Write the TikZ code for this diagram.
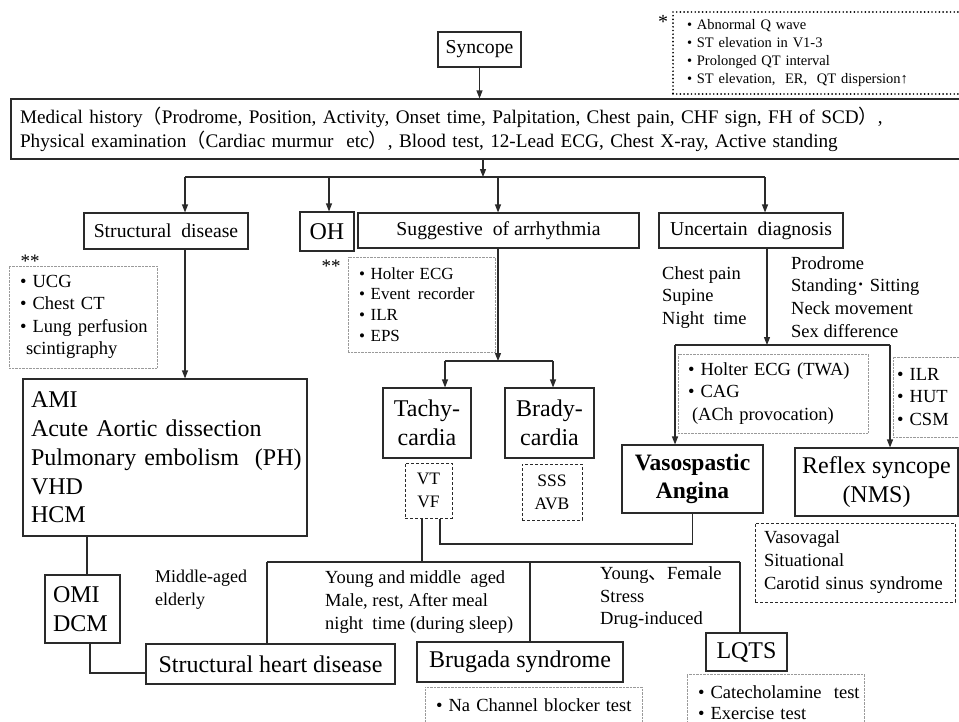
\documentclass[tikz,border=0pt]{standalone}
\usepackage{fontspec}
\setmainfont{Liberation Serif}
\newfontfamily\cjk{Noto Sans CJK JP}
\usetikzlibrary{arrows.meta}
\definecolor{edge}{HTML}{2A2A2A}
\definecolor{lightdot}{HTML}{9A9A9A}
\newcommand{\cjkc}[1]{{\cjk #1}}
\newcommand{\oneln}[1]{\mbox{#1}}
\begin{document}
\begin{tikzpicture}[x=1pt,y=-1pt,
  box/.style={draw=edge, line width=1.1pt, inner sep=0pt, align=center, text=black},
  gbox/.style={draw=lightdot, line width=0.8pt, dash pattern=on 0.7pt off 0.7pt, inner sep=0pt, align=left},
  dbox/.style={draw=edge, line width=1pt, dash pattern=on 3pt off 2pt, inner sep=0pt, align=center},
  hdot/.style={draw=black, line width=1.9pt, dash pattern=on 0pt off 3.7pt, line cap=round, inner sep=0pt, align=left},
  lbl/.style={inner sep=0pt, align=left, anchor=west},
  ln/.style={draw=edge, line width=1.1pt},
  arr/.style={ln, -{Triangle[length=8pt,width=6pt]}},
  fA/.style={font=\fontsize{19.7}{24}\selectfont},
  fB/.style={font=\fontsize{24}{28.7}\selectfont},
  fC/.style={font=\fontsize{18.5}{22.5}\selectfont},
  fD/.style={font=\fontsize{17}{20.7}\selectfont},
  fE/.style={font=\fontsize{14.5}{17.7}\selectfont},
]
\useasboundingbox (0,0) rectangle (959,721);

% ---------- top ----------
\node[box,fA,minimum width=83pt,minimum height=35pt] (syncope) at (479.5,49.5) {Syncope};
\node[inner sep=0pt,font=\fontsize{20}{20}\selectfont] (star1) at (663,22) {*};
\node[hdot,fE,minimum width=292pt,minimum height=82pt,text width=264pt] (ecg) at (819,53)
  {\oneln{• Abnormal Q wave}\\\oneln{• ST elevation in V1-3}\\\oneln{• Prolonged QT interval}\\\oneln{• ST elevation,\ \ ER,\ \ QT dispersion↑}};
\node[box,font=\fontsize{19.2}{24}\selectfont,minimum width=950pt,minimum height=60pt,text width=932pt,align=left] (hist) at (486,129)
  {\oneln{Medical history\cjkc{（}Prodrome, Position, Activity, Onset time, Palpitation, Chest pain, CHF sign, FH of SCD\cjkc{）},}\\
   \oneln{Physical examination\cjkc{（}Cardiac murmur\ \ etc\cjkc{）}, Blood test, 12-Lead ECG, Chest X-ray, Active standing}};

% ---------- second row ----------
\node[box,fA,minimum width=164pt,minimum height=36pt] (struct) at (166,231) {Structural\ \ disease};
\node[box,fB,minimum width=54pt,minimum height=39pt] (oh) at (327,231.5) {OH};
\node[box,fA,minimum width=281pt,minimum height=35pt] (sugg) at (498.5,230.5) {Suggestive\ \ of arrhythmia};
\node[box,fA,minimum width=184pt,minimum height=35pt] (unc) at (751,230.5) {Uncertain\ \ diagnosis};

% ---------- left column ----------
\node[inner sep=0pt,font=\fontsize{19}{19}\selectfont] (star2) at (30,261) {**};
\node[gbox,fC,minimum width=148pt,minimum height=102pt,text width=126pt] (ucg) at (83,317)
  {\oneln{• UCG}\\\oneln{• Chest CT}\\\oneln{• Lung perfusion}\\\oneln{\hspace*{6pt}scintigraphy}};
\node[box,fB,minimum width=284pt,minimum height=157pt,text width=268pt,align=left] (ami) at (165,457.5)
  {\oneln{AMI}\\\oneln{Acute Aortic dissection}\\\oneln{Pulmonary embolism\ \ (PH)}\\\oneln{VHD}\\\oneln{HCM}};
\node[box,fB,minimum width=75pt,minimum height=68pt,text width=59pt,align=left] (omi) at (82.5,609) {\oneln{OMI}\\\oneln{DCM}};
\node[box,fB,minimum width=249pt,minimum height=40pt] (shd) at (270.5,664) {Structural heart disease};
\node[lbl,font=\fontsize{18}{23}\selectfont] (mid) at (155,589.5) {Middle-aged\\elderly};

% ---------- arrhythmia column ----------
\node[inner sep=0pt,font=\fontsize{19}{19}\selectfont] (star3) at (331,266) {**};
\node[gbox,fD,minimum width=147pt,minimum height=95pt,text width=125pt] (tests) at (421.5,304.5)
  {\oneln{• Holter ECG}\\\oneln{• Event\hspace{0.45em}recorder}\\\oneln{• ILR}\\\oneln{• EPS}};
\node[box,fB,minimum width=88pt,minimum height=70pt] (tachy) at (427,423) {Tachy-\\cardia};
\node[box,fB,minimum width=89pt,minimum height=70pt] (brady) at (549.5,423) {Brady-\\cardia};
\node[dbox,font=\fontsize{17.5}{23}\selectfont,minimum width=47pt,minimum height=55pt] (vtvf) at (428.5,490.5) {VT\\VF};
\node[dbox,font=\fontsize{17.5}{23}\selectfont,minimum width=60pt,minimum height=56pt] (sss) at (552,492) {SSS\\AVB};
\node[lbl,font=\fontsize{18.5}{23}\selectfont] (young) at (325,602)
  {Young and middle\ \ aged\\Male, rest, After meal\\night\ \ time (during sleep)};
\node[box,fB,minimum width=206pt,minimum height=40pt] (brug) at (520,662) {Brugada syndrome};
\node[gbox,fC,minimum width=217pt,minimum height=36pt,text width=195pt] (na) at (533.5,705) {\oneln{• Na Channel blocker test}};
\node[lbl,font=\fontsize{18.5}{22.5}\selectfont] (yf) at (600,598) {Young\cjkc{、}Female\\Stress\\Drug-induced};
\node[box,fB,minimum width=81pt,minimum height=38pt] (lqts) at (746.5,652) {LQTS};
\node[gbox,minimum width=177pt,minimum height=57pt,text width=155pt,font=\fontsize{18.5}{21}\selectfont] (cat) at (775.5,702.5)
  {\oneln{• Catecholamine\ \ test}\\\oneln{• Exercise test}};

% ---------- uncertain column ----------
\node[lbl,font=\fontsize{18.5}{22.5}\selectfont] (chest) at (662,297.5) {Chest pain\\Supine\\Night\ \ time};
\node[lbl,font=\fontsize{18.5}{22.7}\selectfont] (prod) at (791,297) {Prodrome\\Standing{\cjk ･}\hspace{0.2em}Sitting\\Neck movement\\Sex difference};
\node[gbox,fC,minimum width=190pt,minimum height=79pt,text width=170pt] (tests2) at (773,393.5)
  {\oneln{• Holter ECG (TWA)}\\\oneln{• CAG}\\\oneln{\hspace*{4pt}(ACh provocation)}};
\node[gbox,fC,minimum width=72pt,minimum height=80pt,text width=64pt] (tests3) at (929,397) {\oneln{• ILR}\\\oneln{• HUT}\\\oneln{• CSM}};
\node[box,font=\bfseries\fontsize{23.5}{28}\selectfont,minimum width=141pt,minimum height=68pt] (vaso) at (692.5,479) {Vasospastic\\Angina};
\node[box,font=\fontsize{24}{29}\selectfont,minimum width=163pt,minimum height=68pt] (reflex) at (876.5,482) {Reflex syncope\\(NMS)};
\node[dbox,align=left,minimum width=200pt,minimum height=79pt,text width=182pt,font=\fontsize{18.5}{23}\selectfont] (nms) at (855,562.5)
  {\oneln{Vasovagal}\\\oneln{Situational}\\\oneln{Carotid sinus syndrome}};

% ---------- connectors ----------
\draw[arr] (syncope.south) -- (syncope.south |- hist.north);
\coordinate (hub) at (483,177);
\coordinate (hs) at (185,177);
\coordinate (ho) at (329,177);
\coordinate (hg) at (498,177);
\coordinate (hu) at (765,177);
\draw[arr] (hist.south -| hub) -- (hub);
\draw[ln] (hs) -- (hu);
\draw[arr] (hs) -- (hs |- struct.north);
\draw[arr] (ho) -- (ho |- oh.north);
\draw[arr] (hg) -- (hg |- sugg.north);
\draw[arr] (hu) -- (hu |- unc.north);

\draw[arr] (struct.south -| hs) -- (hs |- ami.north);
\coordinate (xa) at (87,0);
\draw[ln] (ami.south -| xa) -- (omi.north -| xa);
\coordinate (oc) at (90,673);
\draw[ln] (omi.south -| oc) -- (oc) -- (oc -| shd.west);

\coordinate (bt) at (498,361);
\coordinate (btl) at (445,361);
\coordinate (btr) at (553,361);
\draw[arr] (sugg.south -| bt) -- (bt);
\draw[ln] (btl) -- (btr);
\draw[arr] (btl) -- (btl |- tachy.north);
\draw[arr] (btr) -- (btr |- brady.north);

\coordinate (ut) at (767,345);
\coordinate (utl) at (675,345);
\coordinate (utr) at (890,345);
\draw[arr] (unc.south -| ut) -- (ut);
\draw[ln] (utl) -- (utr);
\draw[arr] (utl) -- (utl |- vaso.north);
\draw[arr] (utr) -- (utr |- reflex.north);

\coordinate (bk) at (440,544);
\draw[ln] (vtvf.south -| bk) -- (bk) -- (bk -| vaso.south) -- (vaso.south);

\coordinate (bl) at (267,562);
\coordinate (bv) at (422,562);
\coordinate (bb) at (530,562);
\coordinate (br) at (740,562);
\draw[ln] (bl) -- (br);
\draw[ln] (vtvf.south -| bv) -- (bv);
\draw[ln] (bl) -- (bl |- shd.north);
\draw[ln] (bb) -- (bb |- brug.north);
\draw[ln] (br) -- (br |- lqts.north);
\end{tikzpicture}
\end{document}
